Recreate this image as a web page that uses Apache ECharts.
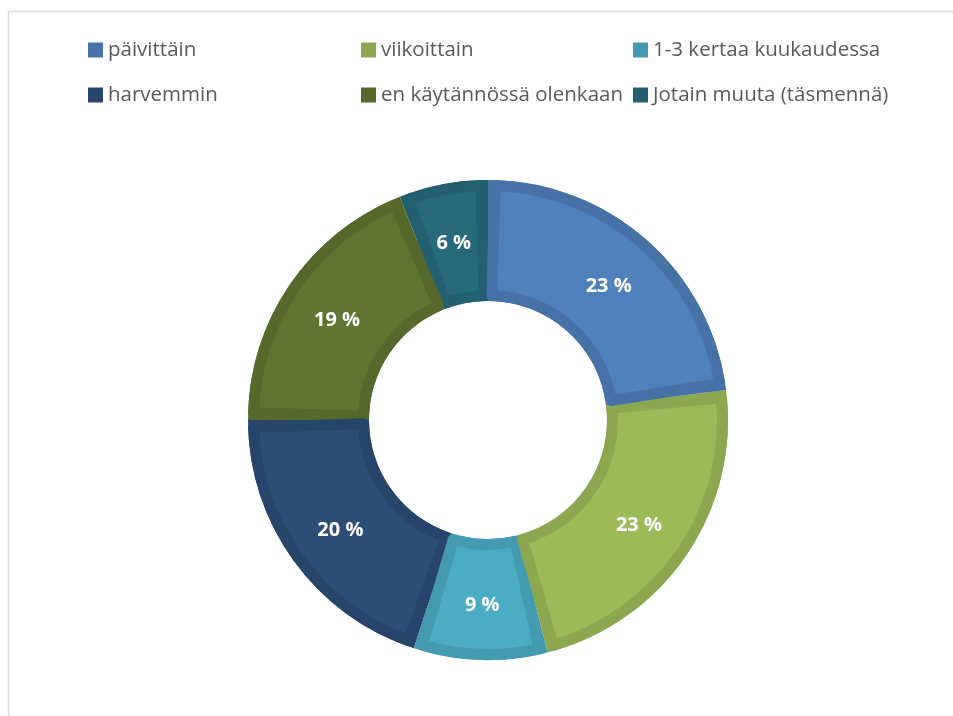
<!DOCTYPE html>
<html>
<head>
<meta charset="utf-8">
<script src="https://cdn.jsdelivr.net/npm/echarts@6/dist/echarts.min.js"></script>
<style>
  html, body { margin: 0; padding: 0; background: #fff; }
  #chart { width: 953px; height: 716px; }
</style>
</head>
<body>
<div id="chart"></div>
<script>
// vastaukset (%)
const categories = ['päivittäin', 'viikoittain', '1-3 kertaa kuukaudessa', 'harvemmin', 'en käytännössä olenkaan', 'Jotain muuta (täsmennä)']
const shares = [23, 23, 9, 20, 19, 6]
const fillColors = ['#4f81bd', '#9bbb59', '#4bacc6', '#2c4d75', '#5f7530', '#276a7c']
const edgeColors = ['#4672a8', '#8ba851', '#449ab1', '#27446a', '#55692b', '#225f6f']

const chart = echarts.init(document.getElementById('chart'))

const legendText = {
  color: '#595959',
  fontSize: 20.5,
  fontFamily: 'Open Sans',
  lineHeight: 22
}

// kolme saraketta, kaksi riviä
const legendColumns = [88, 361, 633].map((x, i) => ({
  orient: 'vertical',
  left: x,
  top: 39,
  padding: 0,
  itemWidth: 15,
  itemHeight: 15,
  itemGap: 23,
  itemTextGap: 5,
  icon: 'rect',
  selectedMode: false,
  textStyle: legendText,
  data: [categories[i], categories[i + 3]]
}))

// piirretään vastapäivään käänteisessä järjestyksessä
const order = categories.map((_, i) => i).reverse()

const darkData = order.map(i => ({
  name: categories[i],
  value: shares[i],
  itemStyle: { color: edgeColors[i] }
}))

const lightData = order.map(i => ({
  name: categories[i],
  value: shares[i],
  itemStyle: { color: fillColors[i], borderColor: edgeColors[i] }
}))

const option = {
  animation: false,
  color: fillColors,
  graphic: [{
    type: 'rect',
    silent: true,
    shape: { x: 8.5, y: 11.5, width: 1000, height: 800 },
    style: { fill: 'none', stroke: '#d9d9d9', lineWidth: 1.5 }
  }],
  legend: legendColumns,
  series: [
    {
      name: 'reuna',
      type: 'pie',
      center: [488, 420],
      radius: [119, 240],
      startAngle: 90,
      clockwise: false,
      silent: true,
      label: { show: false },
      labelLine: { show: false },
      data: darkData
    },
    {
      name: 'osuus',
      type: 'pie',
      center: [488, 420],
      radius: [124.5, 234.5],
      startAngle: 90,
      clockwise: false,
      padAngle: 3.5,
      itemStyle: { borderWidth: 11 },
      label: {
        show: true,
        position: 'inside',
        formatter: '{c} %',
        color: '#fff',
        fontSize: 20,
        fontWeight: 'bold',
        fontFamily: 'Open Sans',
        offset: [0, 3]
      },
      labelLine: { show: false },
      data: lightData
    }
  ]
}

chart.setOption(option)
</script>
</body>
</html>
